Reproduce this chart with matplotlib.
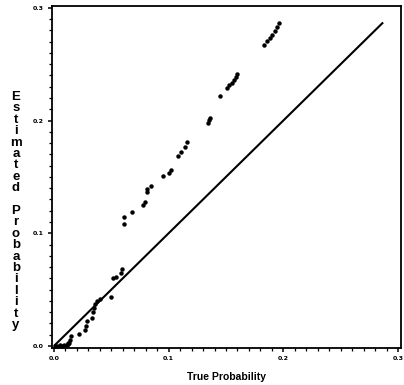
import matplotlib
matplotlib.use("Agg")
import matplotlib.pyplot as plt
from matplotlib.ticker import MultipleLocator, FixedLocator

# True vs. estimated probability for each observation
true_prob = [0.001, 0.003, 0.005, 0.007, 0.009, 0.011, 0.012, 0.013,
             0.0122, 0.014, 0.0148, 0.0218, 0.027, 0.0279, 0.0288, 0.0331,
             0.034, 0.0349, 0.0357, 0.0375, 0.0401, 0.0497, 0.0514, 0.054,
             0.0584, 0.0593,
             0.061, 0.061, 0.068, 0.0776, 0.0793, 0.0811, 0.0811, 0.0846,
             0.095, 0.1003, 0.102, 0.1081, 0.1107, 0.1142, 0.116,
             0.1343, 0.1351, 0.136,
             0.1447, 0.1508, 0.1526, 0.1552, 0.1569, 0.1587, 0.1595,
             0.1831, 0.1857, 0.1883, 0.1901, 0.1927, 0.1944, 0.1962]
est_prob = [0.000, 0.000, 0.001, 0.000, 0.001, 0.001, 0.002, 0.003,
            0.0027, 0.0053, 0.0089, 0.0106, 0.0142, 0.0177, 0.022, 0.0248,
            0.0302, 0.0337, 0.0373, 0.0399, 0.0417, 0.0435, 0.0603, 0.0612,
            0.0648, 0.0683,
            0.1083, 0.1145, 0.1189, 0.1251, 0.1278, 0.1366, 0.1393, 0.142,
            0.1508, 0.1535, 0.1562, 0.1686, 0.1721, 0.1766, 0.181,
            0.1979, 0.2005, 0.2023,
            0.2218, 0.2289, 0.2316, 0.2334, 0.236, 0.2387, 0.2414,
            0.2671, 0.2706, 0.2733, 0.276, 0.2795, 0.2831, 0.2866]

# Reference line of perfect agreement
ref_line = [0.0, 0.287]

tick_values = [0.0, 0.1, 0.2, 0.3]
tick_labels = ["0.0", "0.1", "0.2", "0.3"]

fig = plt.figure(figsize=(4.04, 3.85), dpi=100)
ax = fig.add_axes([52 / 404, 1 - 348 / 385, (401 - 52) / 404, (348 - 6) / 385])

ax.plot(ref_line, ref_line, color="black", lw=1.5, solid_capstyle="butt")
ax.plot(true_prob, est_prob, linestyle="none", marker="o", markersize=3.2,
        color="black", markeredgewidth=0)

ax.set_xlim(-0.0017, 0.3026)
ax.set_ylim(-0.0018, 0.3016)

for side in ["left", "right", "top", "bottom"]:
    ax.spines[side].set_linewidth(1.3)

ax.xaxis.set_major_locator(FixedLocator(tick_values))
ax.yaxis.set_major_locator(FixedLocator(tick_values))
ax.set_xticklabels(tick_labels, fontsize=4.5, fontweight="bold")
ax.set_yticklabels(tick_labels, fontsize=4.5, fontweight="bold")
ax.xaxis.set_minor_locator(MultipleLocator(0.01))
ax.yaxis.set_minor_locator(MultipleLocator(0.01))
ax.tick_params(which="major", length=3, width=1.1, direction="out", pad=3)
ax.tick_params(which="minor", length=2, width=0.9, direction="out")

ax.set_xlabel("True Probability", fontsize=7.5, fontweight="bold",
              family="Liberation Sans", labelpad=8)

# Vertical stacked y-axis title, one upright letter per line
title = "Estimated Probability"
y_top, y_bot = 97, 325
step = (y_bot - y_top) / (len(title) - 1)
for i, ch in enumerate(title):
    if ch == " ":
        continue
    fig.text(16 / 404, 1 - (y_top + i * step) / 385, ch, fontsize=9.5,
             fontweight="bold", family="Liberation Sans",
             ha="center", va="center")

fig.savefig("out.png", dpi=100)
